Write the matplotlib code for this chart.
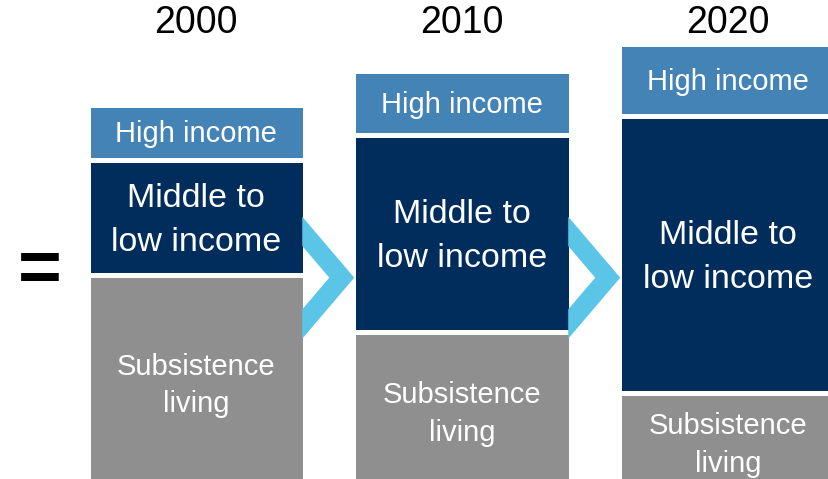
import matplotlib
matplotlib.use("Agg")
import matplotlib.pyplot as plt
from matplotlib.patches import Polygon

plt.rcParams['font.family'] = ['Liberation Sans', 'DejaVu Sans']

# data (segment sizes per year, bottom to top)
years = ['2000', '2010', '2020']
subsistence = [3.44, 2.50, 1.47]
middle = [1.925, 3.28, 4.62]
high = [0.91, 1.065, 1.20]

seg_labels = ['Subsistence\nliving', 'Middle to\nlow income', 'High income']
seg_colors = ['#8f8f8f', '#002d5c', '#4483b6']
seg_sizes = [21, 24.5, 21]
seg_spacing = [1.45, 1.55, 1.2]
seg_shift = [-0.12, -0.05, -0.03]   # small downward nudge of the labels
chevron_color = '#5bc5e8'

fig = plt.figure(figsize=(8.29, 4.79), dpi=100)
ax = fig.add_axes([0, 0, 1, 1])
ax.set_xlim(-0.738, 2.379)
ax.set_ylim(0.042, 8.025)
ax.axis('off')

x = list(range(len(years)))
w = 0.818

bottom = [0, 0, 0]
for vals, lab, col, fs, ls, dy in zip([subsistence, middle, high], seg_labels,
                                      seg_colors, seg_sizes, seg_spacing, seg_shift):
    ax.bar(x, vals, width=w, bottom=bottom, color=col, edgecolor='white',
           linewidth=3.6, zorder=2)
    for xi, v, b in zip(x, vals, bottom):
        ax.text(xi, b + v / 2 + dy, lab, ha='center', va='center', color='white',
                fontsize=fs, linespacing=ls, zorder=4)
    bottom = [b + v for b, v in zip(bottom, vals)]

# year headers
for xi, yr in zip(x, years):
    ax.text(xi, 7.64, yr, ha='center', va='center', fontsize=27, color='black')

# chevrons between columns
depth, notch = 0.1955, 0.094
mid_y, hh = 3.397, 1.017
inner = (depth - notch) * hh / depth
for i in range(len(years) - 1):
    tip = (i + 1) - w / 2 + 0.003
    left = tip - depth
    pts = [(left, mid_y + hh), (tip, mid_y), (left, mid_y - hh),
           (left, mid_y - inner), (tip - notch, mid_y), (left, mid_y + inner)]
    ax.add_patch(Polygon(pts, closed=True, facecolor=chevron_color,
                         edgecolor='none', zorder=3))

ax.text(-0.590, 3.478, '=', ha='center', va='center', fontsize=54,
        fontweight='bold', color='black')

fig.savefig('out.png', dpi=100)
